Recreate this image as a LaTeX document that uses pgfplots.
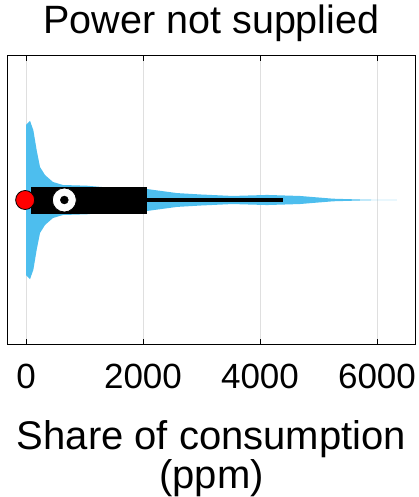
\documentclass[border=0pt]{standalone}
\usepackage{pgfplots}
\pgfplotsset{compat=1.18}
\usepackage{fontspec}
\setmainfont{Liberation Sans}
\definecolor{violin}{rgb}{0.301,0.745,0.933}
\begin{document}
\begin{tikzpicture}
\begin{axis}[
  scale only axis,
  width=408.4pt, height=288.6pt,
  xmin=-320, xmax=6662,
  ymin=0, ymax=2,
  ytick=\empty,
  xtick={0,2000,4000,6000},
  xticklabels={0,2000,4000,6000},
  xmajorgrids,
  grid style={gray!25, line width=0.8pt},
  tick align=inside,
  major tick length=5pt,
  tick style={black, line width=0.8pt},
  axis line style={black, line width=0.9pt},
  font=\fontsize{35}{38}\selectfont,
  ticklabel style={font=\fontsize{35}{38}\selectfont},
  /pgf/number format/assume math mode=true,
  xticklabel style={anchor=base, yshift=-43.7pt},
  title={Power not supplied},
  title style={at={(0.5,1)}, anchor=base, yshift=16.5pt, font=\fontsize{39.5}{40}\selectfont},
  xlabel={Share of consumption\\(ppm)},
  xlabel style={at={(0.5,0)}, anchor=north, yshift=-73pt, align=center, font=\fontsize{40}{32}\selectfont},
  clip=false,
]
% violin (upper outline then lower outline)
\addplot[fill=violin, draw=none] coordinates {
  (0,0.48) (0,1.52) (68,1.549) (125,1.484) (182,1.346) (240,1.228) (325,1.173) (460,1.125)
  (630,1.104) (1040,1.099) (1500,1.083) (2070,1.076) (2580,1.048) (3000,1.038)
  (3530,1.028) (4120,1.035) (4680,1.028) (5250,1.009) (5830,1.002) (6340,1.0)
  (5830,0.998) (5250,0.991) (4680,0.972) (4120,0.965) (3530,0.972) (3000,0.962)
  (2580,0.952) (2070,0.924) (1500,0.917) (1040,0.901) (630,0.896) (460,0.875)
  (325,0.827) (240,0.772) (182,0.654) (125,0.516) (68,0.451) (0,0.48)
} -- cycle;
% whisker
\addplot[black, line width=4.5pt] coordinates {(2050,1) (4390,1)};
% box (interquartile range)
\addplot[fill=black, draw=black] coordinates {(85,0.91) (2050,0.91) (2050,1.09) (85,1.09)} -- cycle;
% mean
\addplot[only marks, mark=*, mark size=9.5pt, mark options={fill=red, draw=black, line width=0.8pt}] coordinates {(-15,1)};
% median
\addplot[only marks, mark=*, mark size=12pt, mark options={fill=white, draw=black, line width=0.8pt}] coordinates {(655,1)};
\addplot[only marks, mark=*, mark size=4pt, mark options={fill=black, draw=black}] coordinates {(655,1)};
\end{axis}
\pgfresetboundingbox
\path (current axis.south west) ++(-7.3pt,-152.7pt) rectangle ++(419pt,497pt);
\end{tikzpicture}
\end{document}
